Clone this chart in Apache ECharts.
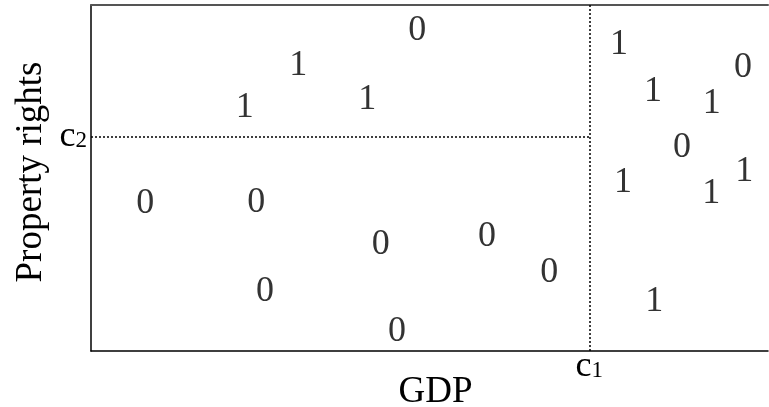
<!DOCTYPE html>
<html><head><meta charset="utf-8">
<script src="https://cdn.jsdelivr.net/npm/echarts@6/dist/echarts.min.js"></script>
<style>html,body{margin:0;padding:0;background:#fff}#c{width:769px;height:407px}</style>
</head><body><div id="c"></div>
<script>
const labels = ['0','1','1','1','0','0','0','0','0','0','0','1','0','1','1','0','1','1','1','1'];
const gdp    = [0.482,0.306,0.227,0.408,0.080,0.244,0.428,0.585,0.677,0.257,0.452,0.780,0.963,0.830,0.917,0.873,0.786,0.916,0.965,0.832];
const prop   = [0.926,0.825,0.703,0.726,0.425,0.428,0.307,0.330,0.226,0.171,0.055,0.886,0.819,0.750,0.715,0.588,0.486,0.454,0.518,0.142];
const c1 = 0.736;
const c2 = 0.619;
const FONT = "'Liberation Serif', 'Times New Roman', serif";
const data = labels.map((l,i)=>({value:[gdp[i],prop[i]], name:l}));
const rich = {c:{fontSize:36,fontFamily:FONT,color:'#000'}, s:{fontSize:23,fontFamily:FONT,color:'#000',padding:[8,0,0,0]}};
const chart = echarts.init(document.getElementById('c'));
chart.setOption({
  animation:false,
  textStyle:{fontFamily:FONT},
  grid:{left:91,right:1,top:5,bottom:56,outerBoundsMode:'none',containLabel:false},
  xAxis:[{type:'value',min:0,max:1,position:'bottom',
    name:'GDP',nameLocation:'middle',nameGap:23,nameMoveOverlap:false,
    nameTextStyle:{fontFamily:FONT,fontSize:37,color:'#000',padding:[0,0,0,12]},
    axisLine:{show:true,lineStyle:{color:'#000',width:1.5}},
    axisTick:{show:false},splitLine:{show:false},
    axisLabel:{show:true,customValues:[c1],formatter:()=>'{c|c}{s|1}',rich:rich,margin:-2}},
   {type:'value',min:0,max:1,position:'top',
    axisLine:{show:true,lineStyle:{color:'#555',width:2}},
    axisTick:{show:false},splitLine:{show:false},axisLabel:{show:false}}],
  yAxis:{type:'value',min:0,max:1,
    name:'Property rights',nameLocation:'middle',nameGap:41,nameMoveOverlap:false,
    nameTextStyle:{fontFamily:FONT,fontSize:37,color:'#000',padding:[0,0,0,12]},
    axisLine:{show:true,lineStyle:{color:'#000',width:1.5}},
    axisTick:{show:false},splitLine:{show:false},
    axisLabel:{show:true,customValues:[c2],formatter:()=>'{c|c}{s|2}',rich:rich,margin:4}},
  series:[{type:'scatter',data:data,symbolSize:0,
    label:{show:true,position:'inside',formatter:p=>p.name,fontFamily:FONT,fontSize:36,color:'#000',fontWeight:'normal'},
    emphasis:{disabled:true},
    markLine:{silent:true,symbol:'none',label:{show:false},
      lineStyle:{type:[2,2],color:'#000',width:1.5},
      data:[[{coord:[c1,0]},{coord:[c1,1]}],[{coord:[0,c2]},{coord:[c1,c2]}]]}}]
});
</script></body></html>
